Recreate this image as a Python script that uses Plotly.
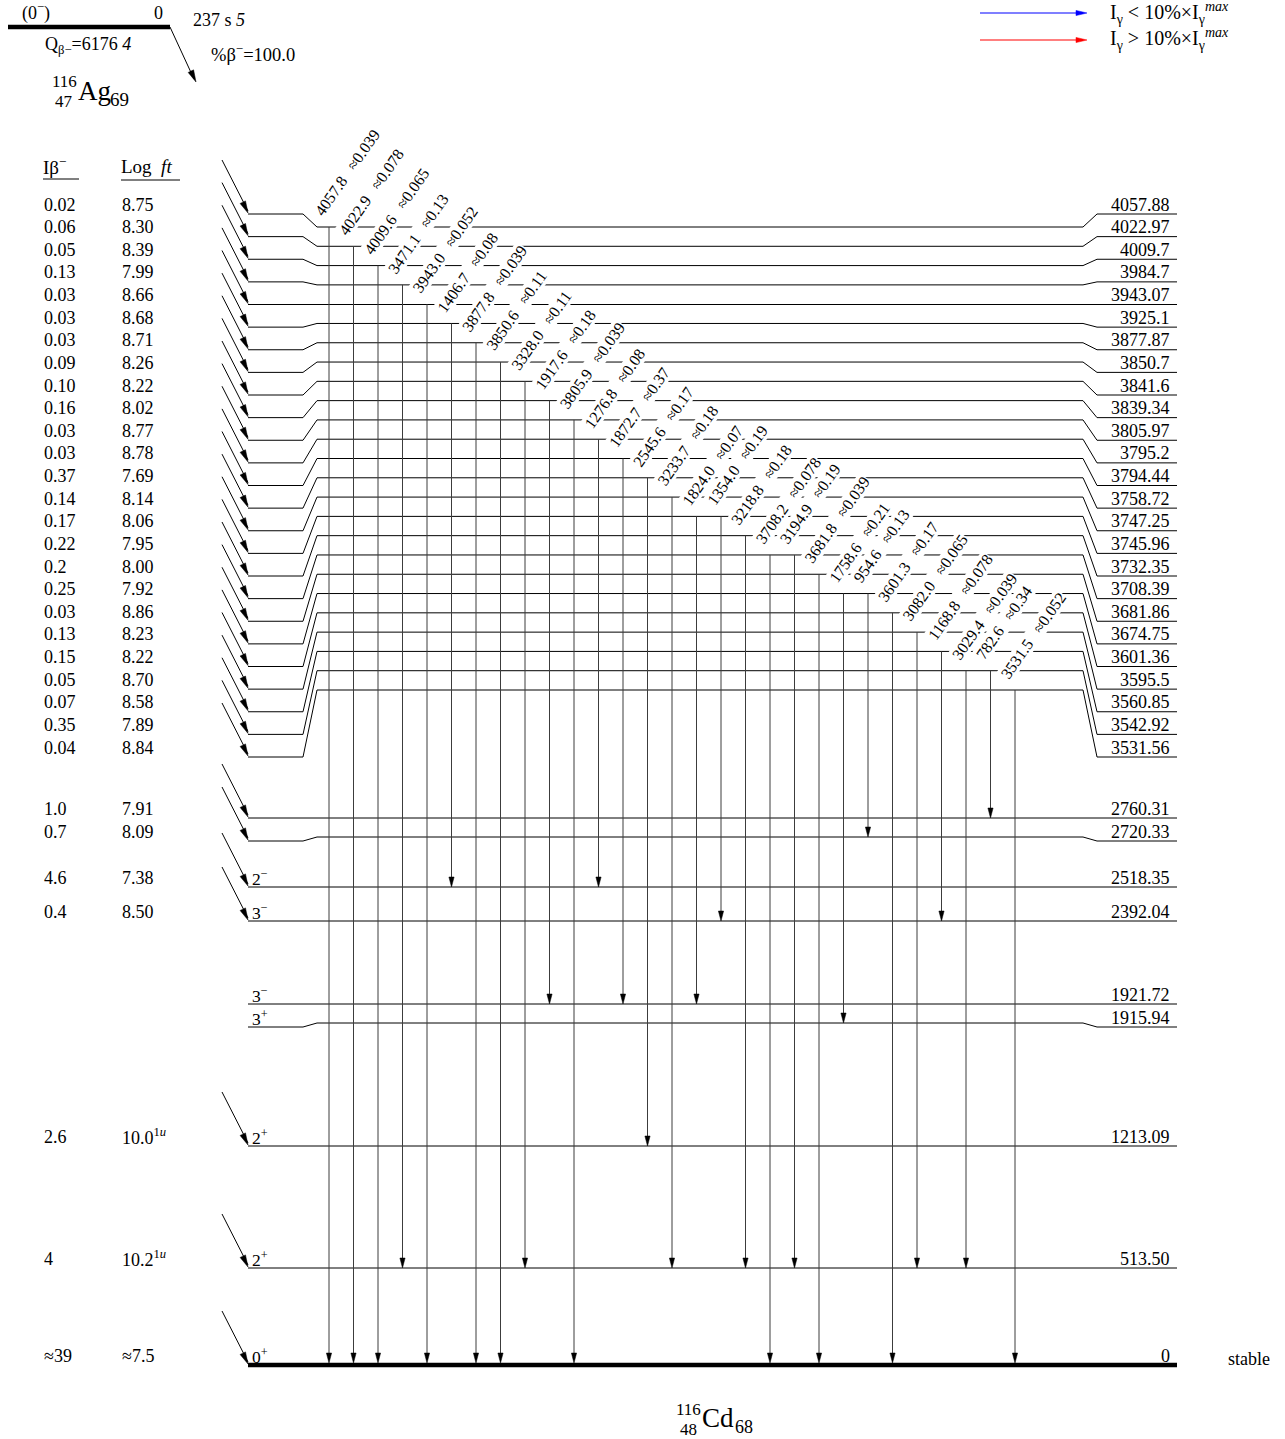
import math
import numpy as np
import plotly.graph_objects as go

# ---------------- data ----------------
level_energy = [4057.88, 4022.97, 4009.7, 3984.7, 3943.07, 3925.1, 3877.87, 3850.7, 3841.6, 3839.34,
                3805.97, 3795.2, 3794.44, 3758.72, 3747.25, 3745.96, 3732.35, 3708.39, 3681.86, 3674.75,
                3601.36, 3595.5, 3560.85, 3542.92, 3531.56, 2760.31, 2720.33, 2518.35, 2392.04,
                1921.72, 1915.94, 1213.09, 513.50, 0.0]
level_label = ["4057.88", "4022.97", "4009.7", "3984.7", "3943.07", "3925.1", "3877.87", "3850.7", "3841.6",
               "3839.34", "3805.97", "3795.2", "3794.44", "3758.72", "3747.25", "3745.96", "3732.35", "3708.39",
               "3681.86", "3674.75", "3601.36", "3595.5", "3560.85", "3542.92", "3531.56", "2760.31", "2720.33",
               "2518.35", "2392.04", "1921.72", "1915.94", "1213.09", "513.50", "0"]
level_spin = [""] * 27 + ["2<sup>−</sup>", "3<sup>−</sup>", "3<sup>−</sup>", "3<sup>+</sup>",
                          "2<sup>+</sup>", "2<sup>+</sup>", "0<sup>+</sup>"]
beta_intensity = ["0.02", "0.06", "0.05", "0.13", "0.03", "0.03", "0.03", "0.09", "0.10", "0.16", "0.03",
                  "0.03", "0.37", "0.14", "0.17", "0.22", "0.2", "0.25", "0.03", "0.13", "0.15", "0.05",
                  "0.07", "0.35", "0.04", "1.0", "0.7", "4.6", "0.4", None, None, "2.6", "4", "≈39"]
log_ft = ["8.75", "8.30", "8.39", "7.99", "8.66", "8.68", "8.71", "8.26", "8.22", "8.02", "8.77", "8.78",
          "7.69", "8.14", "8.06", "7.95", "8.00", "7.92", "8.86", "8.23", "8.22", "8.70", "8.58", "7.89",
          "8.84", "7.91", "8.09", "7.38", "8.50", None, None,
          "10.0<sup>1<i>u</i></sup>", "10.2<sup>1<i>u</i></sup>", "≈7.5"]

gamma_energy = ["4057.8", "4022.9", "4009.6", "3471.1", "3943.0", "1406.7", "3877.8", "3850.6", "3328.0",
                "1917.6", "3805.9", "1276.8", "1872.7", "2545.6", "3233.7", "1824.0", "1354.0", "3218.8",
                "3708.2", "3194.9", "3681.8", "1758.6", "954.6", "3601.3", "3082.0", "1168.8", "3029.4",
                "782.6", "3531.5"]
gamma_intensity = ["≈0.039", "≈0.078", "≈0.065", "≈0.13", "≈0.052", "≈0.08", "≈0.039", "≈0.11", "≈0.11",
                   "≈0.18", "≈0.039", "≈0.08", "≈0.37", "≈0.17", "≈0.18", "≈0.07", "≈0.19", "≈0.18",
                   "≈0.078", "≈0.19", "≈0.039", "≈0.21", "≈0.13", "≈0.17", "≈0.065", "≈0.078", "≈0.039",
                   "≈0.34", "≈0.052"]
gamma_from = [4057.88, 4022.97, 4009.7, 3984.7, 3943.07, 3925.1, 3877.87, 3850.7, 3841.6, 3839.34,
              3805.97, 3795.2, 3794.44, 3758.72, 3747.25, 3745.96, 3745.96, 3732.35, 3708.39, 3708.39,
              3681.86, 3674.75, 3674.75, 3601.36, 3595.5, 3560.85, 3542.92, 3542.92, 3531.56]
gamma_to = [0.0, 0.0, 0.0, 513.50, 0.0, 2518.35, 0.0, 0.0, 513.50, 1921.72, 0.0, 2518.35, 1921.72,
            1213.09, 513.50, 1921.72, 2392.04, 513.50, 0.0, 513.50, 0.0, 1915.94, 2720.33, 0.0, 513.50,
            2392.04, 513.50, 2760.31, 0.0]

parent_spin = "(0<sup>−</sup>)"
parent_energy = "0"
parent_halflife = "237 s <i>5</i>"
parent_q = "Q<sub>β−</sub>=6176 <i>4</i>"
parent_branch = "%β<sup>−</sup>=100.0"

# ---------------- layout (drawing geometry) ----------------
W, H = 1285, 1439
FONT = "Liberation Serif"
X_BETA_TAIL, X_LEFT, X_LBEND, X_MID0, X_MID1, X_RBEND, X_RIGHT = 222, 248, 303, 317, 1083, 1097, 1177
BETA_DY = 54
UP_LABEL_TOP, UP_LABEL_BOT = 214.0, 757.0
UP_MID_TOP, UP_MID_BOT = 227.0, 690.0
# vertical drawing scale for the low-lying levels (piecewise, as in the drawing)
SCALE_E = [0.0, 513.5, 1213.09, 1921.72, 2392.04, 2518.35, 2760.31]
SCALE_Y = [1365.0, 1268.0, 1146.0, 1004.0, 921.0, 887.0, 818.0]
MIN_MID_GAP, MIN_LABEL_GAP = 19.0, 23.0
GX0, GDX = 329.0, 24.5
G_ANGLE = 55.0
G_FONT = 16.0

upper = [e for e in level_energy if e > 3000]
label_y, mid_y = {}, {}
for i, e in enumerate(upper):
    label_y[e] = UP_LABEL_TOP + i * (UP_LABEL_BOT - UP_LABEL_TOP) / (len(upper) - 1)
    mid_y[e] = UP_MID_TOP + i * (UP_MID_BOT - UP_MID_TOP) / (len(upper) - 1)
prev_m, prev_l = mid_y[upper[-1]], label_y[upper[-1]]
for e in [e for e in level_energy if e <= 3000]:
    m = float(np.interp(e, SCALE_E, SCALE_Y))
    m = max(m, prev_m + MIN_MID_GAP)
    lab = max(m, prev_l + MIN_LABEL_GAP)
    mid_y[e], label_y[e] = m, lab
    prev_m, prev_l = m, lab

fig = go.Figure()

def add_lines(xs, ys, color="black", width=1.0):
    fig.add_trace(go.Scatter(x=xs, y=ys, mode="lines", line=dict(color=color, width=width),
                             hoverinfo="skip", showlegend=False))

def tri(tip, direction, length, half):
    dx, dy = direction
    n = math.hypot(dx, dy)
    dx, dy = dx / n, dy / n
    bx, by = tip[0] - length * dx, tip[1] - length * dy
    px, py = -dy, dx
    return [tip[0], bx + half * px, bx - half * px, tip[0], None], \
           [tip[1], by + half * py, by - half * py, tip[1], None]

# level lines
lx, ly = [], []
for e in level_energy:
    if e == 0.0:
        continue
    L, M = label_y[e], mid_y[e]
    lx += [X_LEFT, X_LBEND, X_MID0, X_MID1, X_RBEND, X_RIGHT, None]
    ly += [L, L, M, M, L, L, None]
add_lines(lx, ly, "black", 1.0)
# ground state
add_lines([X_LEFT, X_RIGHT], [mid_y[0.0], mid_y[0.0]], "black", 4.5)

# beta arrows
bx, by, hx, hy = [], [], [], []
for e, ib in zip(level_energy, beta_intensity):
    if ib is None:
        continue
    L = label_y[e]
    bx += [X_BETA_TAIL, X_LEFT, None]
    by += [L - BETA_DY, L - 3, None]
    tx, ty = tri((X_LEFT, L - 1), (X_LEFT - X_BETA_TAIL, BETA_DY), 12, 3.0)
    hx += tx; hy += ty
add_lines(bx, by, "black", 1.0)

# gamma arrows
gx, gy = [], []
for k, (ef, et) in enumerate(zip(gamma_from, gamma_to)):
    x = GX0 + k * GDX
    y0 = mid_y[ef]
    y1 = mid_y[et] - (2 if et == 0.0 else 0)
    gx += [x, x, None]
    gy += [y0, y1 - 4, None]
    tx, ty = tri((x, y1), (0, 1), 10, 2.6)
    hx += tx; hy += ty
add_lines(gx, gy, "#3c3c3c", 1.0)

# parent level and its beta arrow
add_lines([8, 170], [27, 27], "black", 4.5)
add_lines([170, 194], [27, 79], "black", 1.0)
tx, ty = tri((196, 82), (26, 55), 12, 3.0)
hx += tx; hy += ty

# legend arrows
for yy, col in [(13, "#0000ff"), (40, "#ff0000")]:
    add_lines([980, 1078], [yy, yy], col, 1.2)
    tx, ty = tri((1087, yy), (1, 0), 11, 2.6)
    fig.add_trace(go.Scatter(x=tx, y=ty, mode="lines", fill="toself", fillcolor=col,
                             line=dict(color=col, width=0.5), hoverinfo="skip", showlegend=False))

fig.add_trace(go.Scatter(x=hx, y=hy, mode="lines", fill="toself", fillcolor="black",
                         line=dict(color="black", width=0.5), hoverinfo="skip", showlegend=False))

# header underlines
add_lines([43, 79], [179, 179], "black", 1.0)
add_lines([121, 180], [180, 180], "black", 1.0)

ann = []

def text(x, y, s, size=18, xa="left", ya="middle", **kw):
    ann.append(dict(x=x, y=y, xref="x", yref="y", text=s, showarrow=False, xanchor=xa, yanchor=ya,
                    font=dict(family=FONT, size=size, color="black"), borderpad=0, **kw))

# level labels, beta intensities, log ft, spins
for e, lab, sp, ib, ft in zip(level_energy, level_label, level_spin, beta_intensity, log_ft):
    L = label_y[e]
    yb = L - 9.5
    text(X_RIGHT - 6, yb, lab, 18, xa="right")
    if ib is not None:
        text(43, yb, ib, 18)
    if ft is not None:
        text(121, yb, ft, 18)
    if sp:
        text(251, yb, sp, 17.5)

# gamma labels (rotated, white background masks level lines)
CW = {".": 0.25, "\u00a0": 0.25, "≈": 0.548}
th = math.radians(G_ANGLE)
ux, uy = math.cos(th), -math.sin(th)
vx, vy = -math.sin(th), -math.cos(th)
for k, (eg, ig, ef) in enumerate(zip(gamma_energy, gamma_intensity, gamma_from)):
    s = eg + "\u00a0\u00a0\u00a0" + ig
    wpx = sum(CW.get(c, 0.5) for c in s) * G_FONT
    x0 = GX0 + k * GDX - 6
    y0 = mid_y[ef] - 10
    cx = x0 + wpx / 2 * ux + 0.34 * G_FONT * vx
    cy = y0 + wpx / 2 * uy + 0.34 * G_FONT * vy
    text(cx, cy, s, G_FONT, xa="center", ya="middle", textangle=-G_ANGLE, bgcolor="white")

# parent / daughter / headers / legend text
text(36, 12, parent_spin, 18, xa="center")
text(158, 13, parent_energy, 18, xa="center")
text(44, 45, parent_q, 18)
text(192, 20, parent_halflife, 18)
text(210, 53, parent_branch, 18.5)
text(78, 81, "116", 17, xa="right")
text(74, 101, "47", 17, xa="right")
text(77, 91, "Ag", 27)
text(109, 99, "69", 19)
text(702, 1409, "116", 17, xa="right")
text(698, 1429, "48", 17, xa="right")
text(701, 1418, "Cd", 27)
text(734, 1427, "68", 18)
text(42, 166, "Iβ<sup>−</sup>", 19)
text(120, 166, "Log\u00a0 <i>ft</i>", 19)
text(1227, 1359, "stable", 18)
text(1109, 13, "I<sub>γ</sub> &lt; 10%×I<sub>γ</sub><sup><i>max</i></sup>", 20)
text(1109, 39, "I<sub>γ</sub> &gt; 10%×I<sub>γ</sub><sup><i>max</i></sup>", 20)

fig.update_layout(
    width=W, height=H, margin=dict(l=0, r=0, t=0, b=0),
    paper_bgcolor="white", plot_bgcolor="white", showlegend=False,
    xaxis=dict(range=[0, W], visible=False, fixedrange=True),
    yaxis=dict(range=[H, 0], visible=False, fixedrange=True),
    annotations=ann,
)
fig.write_html("out.html", config={"displayModeBar": False},
               post_script="document.body.style.margin='0px';")
